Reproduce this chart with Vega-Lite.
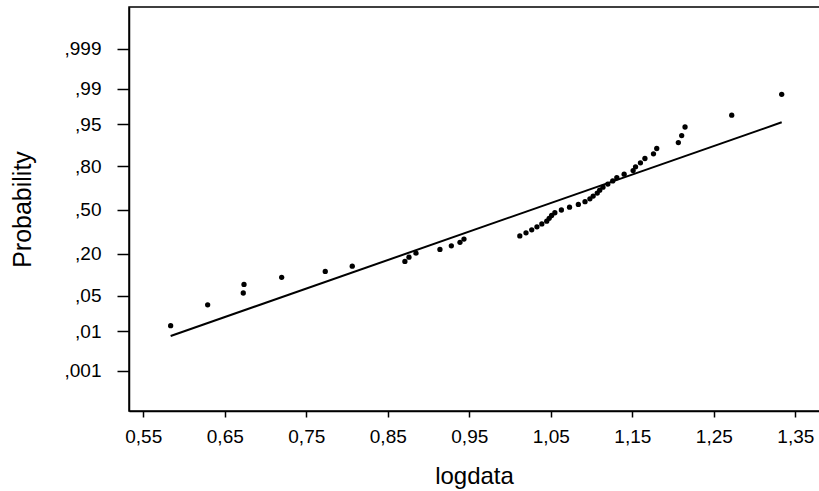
{
  "$schema": "https://vega.github.io/schema/vega-lite/v6.json",
  "width": 691,
  "height": 404,
  "autosize": {"type": "none"},
  "padding": {"left": 129, "top": 7, "right": 0, "bottom": 80},
  "background": "white",
  "config": {
    "view": {"stroke": "black", "strokeWidth": 1.5},
    "font": "Liberation Sans",
    "axis": {
      "domainColor": "black", "domainWidth": 1.5,
      "tickColor": "black", "tickWidth": 1.5,
      "labelColor": "black", "titleColor": "black",
      "grid": false,
      "labelFont": "Liberation Sans", "titleFont": "Liberation Sans",
      "titleFontWeight": "normal"
    }
  },
  "datasets": {
    "points": [
      {"logdata": 0.5836, "z": -2.220},
      {"logdata": 0.6290, "z": -1.820},
      {"logdata": 0.6727, "z": -1.593},
      {"logdata": 0.6736, "z": -1.428},
      {"logdata": 0.7198, "z": -1.293},
      {"logdata": 0.7733, "z": -1.180},
      {"logdata": 0.8064, "z": -1.079},
      {"logdata": 0.8710, "z": -0.988},
      {"logdata": 0.8760, "z": -0.906},
      {"logdata": 0.8846, "z": -0.829},
      {"logdata": 0.9140, "z": -0.756},
      {"logdata": 0.9280, "z": -0.687},
      {"logdata": 0.9386, "z": -0.621},
      {"logdata": 0.9435, "z": -0.558},
      {"logdata": 1.0120, "z": -0.497},
      {"logdata": 1.0196, "z": -0.438},
      {"logdata": 1.0266, "z": -0.381},
      {"logdata": 1.0330, "z": -0.324},
      {"logdata": 1.0390, "z": -0.268},
      {"logdata": 1.0450, "z": -0.214},
      {"logdata": 1.0480, "z": -0.160},
      {"logdata": 1.0510, "z": -0.106},
      {"logdata": 1.0550, "z": -0.053},
      {"logdata": 1.0630, "z": 0.000},
      {"logdata": 1.0730, "z": 0.053},
      {"logdata": 1.0838, "z": 0.106},
      {"logdata": 1.0920, "z": 0.160},
      {"logdata": 1.0980, "z": 0.214},
      {"logdata": 1.1020, "z": 0.268},
      {"logdata": 1.1070, "z": 0.324},
      {"logdata": 1.1100, "z": 0.381},
      {"logdata": 1.1140, "z": 0.438},
      {"logdata": 1.1200, "z": 0.497},
      {"logdata": 1.1260, "z": 0.558},
      {"logdata": 1.1310, "z": 0.621},
      {"logdata": 1.1400, "z": 0.687},
      {"logdata": 1.1510, "z": 0.756},
      {"logdata": 1.1540, "z": 0.829},
      {"logdata": 1.1600, "z": 0.906},
      {"logdata": 1.1655, "z": 0.988},
      {"logdata": 1.1760, "z": 1.079},
      {"logdata": 1.1800, "z": 1.180},
      {"logdata": 1.2065, "z": 1.293},
      {"logdata": 1.2106, "z": 1.428},
      {"logdata": 1.2147, "z": 1.593},
      {"logdata": 1.2720, "z": 1.820},
      {"logdata": 1.3333, "z": 2.220}
    ],
    "fit": [
      {"logdata": 0.5836, "z": -2.418},
      {"logdata": 1.3333, "z": 1.683}
    ]
  },
  "layer": [
    {
      "data": {"name": "points"},
      "mark": {"type": "circle", "size": 28, "color": "black", "opacity": 1},
      "encoding": {
        "x": {
          "field": "logdata", "type": "quantitative",
          "scale": {"domain": [0.5325, 1.3803], "nice": false, "zero": false},
          "axis": {
            "title": "logdata",
            "values": [0.55, 0.65, 0.75, 0.85, 0.95, 1.05, 1.15, 1.25, 1.35],
            "labelExpr": "replace(format(datum.value, '.2f'), '.', ',')",
            "labelFontSize": 19, "titleFontSize": 24,
            "tickSize": 6, "labelPadding": 10,
            "titleX": 345, "titleY": 72, "titleBaseline": "alphabetic", "titleAlign": "center"
          }
        },
        "y": {
          "field": "z", "type": "quantitative",
          "scale": {"domain": [-3.858, 3.896], "nice": false, "zero": false},
          "axis": {
            "title": "Probability",
            "values": [-3.09, -2.326, -1.645, -0.842, 0, 0.842, 1.645, 2.326, 3.09],
            "labelExpr": "datum.value < -3 ? ',001' : datum.value < -2 ? ',01' : datum.value < -1 ? ',05' : datum.value < -0.5 ? ',20' : datum.value < 0.5 ? ',50' : datum.value < 1 ? ',80' : datum.value < 2 ? ',95' : datum.value < 3 ? ',99' : ',999'",
            "labelFontSize": 19, "titleFontSize": 25,
            "tickSize": 12, "labelPadding": 16,
            "titleX": -107, "titleY": 202, "titleAngle": -90, "titleAlign": "center", "titleBaseline": "middle"
          }
        }
      }
    },
    {
      "data": {"name": "fit"},
      "mark": {"type": "line", "color": "black", "strokeWidth": 2},
      "encoding": {
        "x": {"field": "logdata", "type": "quantitative"},
        "y": {"field": "z", "type": "quantitative"}
      }
    }
  ]
}
